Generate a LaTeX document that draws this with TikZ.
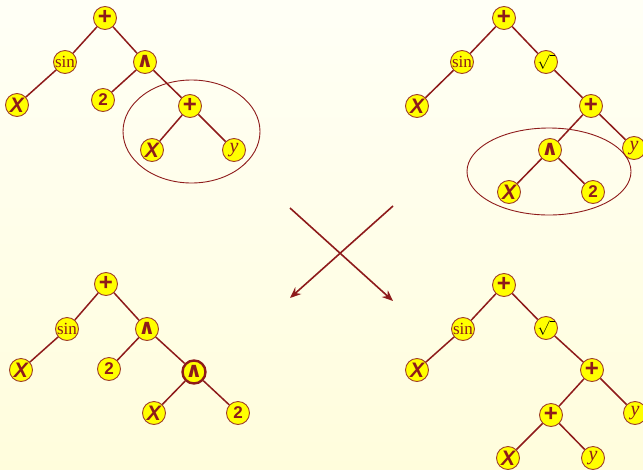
\documentclass[tikz,border=0pt]{standalone}
\usepackage{fontspec}
\setmainfont{Liberation Serif}
\setsansfont{Liberation Sans}
\newfontfamily\djv{DejaVu Sans}
\usetikzlibrary{arrows.meta}
\definecolor{bgtop}{HTML}{FFFFF6}
\definecolor{bgbot}{HTML}{FFFDDC}
\definecolor{dred}{HTML}{8E1B1B}
\definecolor{nbord}{HTML}{A0402A}
\definecolor{nfill}{HTML}{FFFF00}
\tikzset{
  tn/.style={circle,draw=nbord,line width=0.9pt,fill=nfill,minimum size=23pt,inner sep=0pt,text=dred},
  tnb/.style={tn,line width=2.4pt,draw=dred},
  ed/.style={draw=dred,line width=1.5pt},
  ring/.style={draw=dred,line width=0.9pt},
  xarr/.style={draw=dred,line width=1.6pt,-{Stealth[length=11pt,width=9pt]}},
}
\newcommand{\Plus}{\sffamily\bfseries\fontsize{24}{24}\selectfont\raisebox{0.5pt}{+}}
\newcommand{\Wedge}{\djv\bfseries\fontsize{21}{21}\selectfont\raisebox{1pt}{∧}}
\newcommand{\Xv}{\sffamily\bfseries\itshape\fontsize{21}{21}\selectfont X}
\newcommand{\Yv}{\itshape\fontsize{20}{20}\selectfont y}
\newcommand{\Two}{\sffamily\bfseries\fontsize{17}{17}\selectfont 2}
\newcommand{\Sin}{\fontsize{17}{17}\selectfont sin}
\newcommand{\Sq}{\color{black}\fontsize{14}{14}\selectfont$\sqrt{\vphantom{x}\hspace{5pt}}$}
\begin{document}
\begin{tikzpicture}[x=1pt,y=-1pt]
\shade[top color=bgtop,bottom color=bgbot] (0,0) rectangle (643,469);
\useasboundingbox (0,0) rectangle (643,469);
% tree 1
\node[tn] (a1) at (105,18) {\Plus};
\node[tn] (a2) at (65,62) {\Sin};
\node[tn] (a3) at (145,62) {\Wedge};
\node[tn] (a4) at (17,105) {\Xv};
\node[tn] (a5) at (103,100) {\Two};
\node[tn] (a6) at (190,106) {\Plus};
\node[tn] (a7) at (152,150) {\Xv};
\node[tn] (a8) at (234,150) {\Yv};
\draw[ed] (a1)--(a2) (a1)--(a3) (a2)--(a4) (a3)--(a5) (a3)--(a6) (a6)--(a7) (a6)--(a8);
\draw[ring] (191.5,131.5) ellipse (68.5 and 51.5);
% tree 2
\node[tn] (b1) at (504,18) {\Plus};
\node[tn] (b2) at (462,62) {\Sin};
\node[tn] (b3) at (546,62) {\Sq};
\node[tn] (b4) at (417,106) {\Xv};
\node[tn] (b5) at (591,106) {\Plus};
\node[tn] (b6) at (550,150) {\Wedge};
\node[tn] (b7) at (634,148) {\Yv};
\node[tn] (b8) at (509,192) {\Xv};
\node[tn] (b9) at (593,192) {\Two};
\draw[ed] (b1)--(b2) (b1)--(b3) (b2)--(b4) (b3)--(b5) (b5)--(b6) (b5)--(b7) (b6)--(b8) (b6)--(b9);
\draw[ring] (549,171.5) ellipse (82 and 43.5);
% tree 3
\node[tn] (c1) at (106,284) {\Plus};
\node[tn] (c2) at (67,329) {\Sin};
\node[tn] (c3) at (147,329) {\Wedge};
\node[tn] (c4) at (21,370) {\Xv};
\node[tn] (c5) at (109,369) {\Two};
\node[tnb] (c6) at (194,372) {\Wedge};
\node[tn] (c7) at (154,413) {\Xv};
\node[tn] (c8) at (238,413) {\Two};
\draw[ed] (c1)--(c2) (c1)--(c3) (c2)--(c4) (c3)--(c5) (c3)--(c6) (c6)--(c7) (c6)--(c8);
% tree 4
\node[tn] (d1) at (504,285) {\Plus};
\node[tn] (d2) at (463,329) {\Sin};
\node[tn] (d3) at (546,328) {\Sq};
\node[tn] (d4) at (417,370) {\Xv};
\node[tn] (d5) at (592,370) {\Plus};
\node[tn] (d6) at (551,415) {\Plus};
\node[tn] (d7) at (635,413) {\Yv};
\node[tn] (d8) at (508,458) {\Xv};
\node[tn] (d9) at (593,458) {\Yv};
\draw[ed] (d1)--(d2) (d1)--(d3) (d2)--(d4) (d3)--(d5) (d5)--(d6) (d5)--(d7) (d6)--(d8) (d6)--(d9);
% crossing arrows
\coordinate (p1) at (290,208);
\coordinate (q1) at (393,301);
\coordinate (p2) at (393,206);
\coordinate (q2) at (290,298);
\draw[xarr] (p1)--(q1);
\draw[xarr] (p2)--(q2);
\end{tikzpicture}
\end{document}
